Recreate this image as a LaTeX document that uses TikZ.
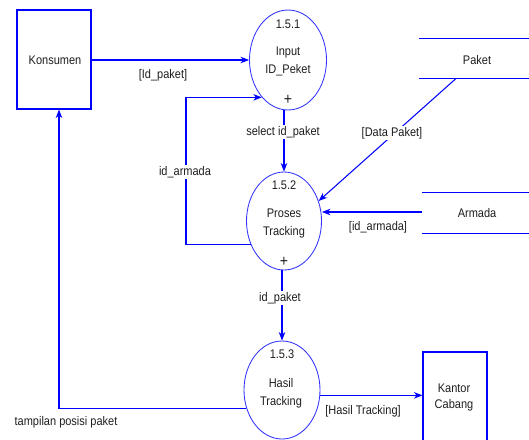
\documentclass[tikz,border=0pt]{standalone}
\usepackage{fontspec}
\setmainfont{Liberation Sans}[FakeStretch=0.88]
\usetikzlibrary{shapes.geometric,arrows.meta,calc}
\definecolor{flow}{RGB}{0,0,255}
\definecolor{bubble}{RGB}{50,50,255}
\definecolor{ink}{RGB}{30,30,30}

\begin{document}
\begin{tikzpicture}[x=1pt,y=-1pt,
  flowline/.style={draw=flow,line width=1.05pt},
  arr/.style={flowline,-{Stealth[length=8.5pt,width=6.5pt,inset=2.5pt]}},
  proc/.style={ellipse,draw=bubble,line width=0.85pt,inner sep=0pt},
  entity/.style={rectangle,draw=flow,line width=1.05pt,inner sep=0pt},
  store/.style={rectangle,inner sep=0pt,minimum width=110pt},
  txt/.style={text=ink,font=\fontsize{12.5}{14}\selectfont,inner sep=1pt},
  lbl/.style={txt,fill=white},
  plus/.style={text=ink,font=\fontsize{16}{16}\selectfont,inner sep=0pt}
]
\useasboundingbox (0,0) rectangle (529,439);

% external entities
\node[entity,minimum width=74pt,minimum height=99pt] (kons) at (54,59.5) {};
\node[txt] (konst) at (55,60) {Konsumen};
\node[entity,minimum width=64pt,minimum height=93pt] (kantor) at (455,398.5) {};
\node[txt,align=center] (kantort) at (454,397) {Kantor\\[2pt]Cabang};

% data stores
\node[store,minimum height=39pt] (paket) at (474,58.5) {};
\draw[flowline] (paket.north west) -- (paket.north east);
\draw[flowline] (paket.south west) -- (paket.south east);
\node[txt] (pakett) at (477,60) {Paket};
\node[store,minimum height=40pt,minimum width=107pt] (armada) at (475.5,213) {};
\draw[flowline] (armada.north west) -- (armada.north east);
\draw[flowline] (armada.south west) -- (armada.south east);
\node[txt] (armadat) at (477,213) {Armada};

% processes
\node[proc,minimum width=77pt,minimum height=100pt] (p1) at (288,60) {};
\node[txt] (p1n) at (288,24) {1.5.1};
\node[txt] (p1a) at (288,52) {Input};
\node[txt] (p1b) at (288,70) {ID\_Peket};
\node[plus] (p1p) at (288,100) {+};

\node[proc,minimum width=75pt,minimum height=98pt] (p2) at (284,221) {};
\node[txt] (p2n) at (284,185) {1.5.2};
\node[txt] (p2a) at (284,213) {Proses};
\node[txt] (p2b) at (284,232) {Tracking};
\node[plus] (p2p) at (284,262) {+};

\node[proc,minimum width=76pt,minimum height=98pt] (p3) at (282,390) {};
\node[txt] (p3n) at (282,354) {1.5.3};
\node[txt] (p3a) at (281,383) {Hasil};
\node[txt] (p3b) at (281,402) {Tracking};

% flows
\draw[arr] (kons.east |- p1.west) -- (p1.west);
\node[txt] (l1) at (163,75) {[Id\_paket]};

\draw[arr] (p2.215) -| ([xshift=-98pt]p2.center |- p1.235) -- (p1.235);
\node[lbl] (l2) at (185,172) {id\_armada};

\draw[arr] (p2.north |- p1.south) -- (p2.north);
\node[lbl] (l3) at (283,132) {select id\_paket};

\draw[arr] ($(paket.south west)!0.34!(paket.south east)$) -- (p2.30);
\node[lbl] (l4) at (392,133) {[Data Paket]};

\draw[arr] (armada.west |- 0,212) -- (p2.east |- 0,212);
\node[txt] (l5) at (378,227) {[id\_armada]};

\draw[arr] (p3.north |- p2.south) -- (p3.north);
\node[lbl] (l6) at (280,298) {id\_paket};

\draw[arr] (p3.-8) -- (p3.-8 -| kantor.west);
\node[txt] (l7) at (363,411) {[Hasil Tracking]};

\draw[arr] (p3.208) -| ([xshift=5pt]kons.south);
\node[txt] (l8) at (66,422) {tampilan posisi paket};
\end{tikzpicture}
\end{document}
